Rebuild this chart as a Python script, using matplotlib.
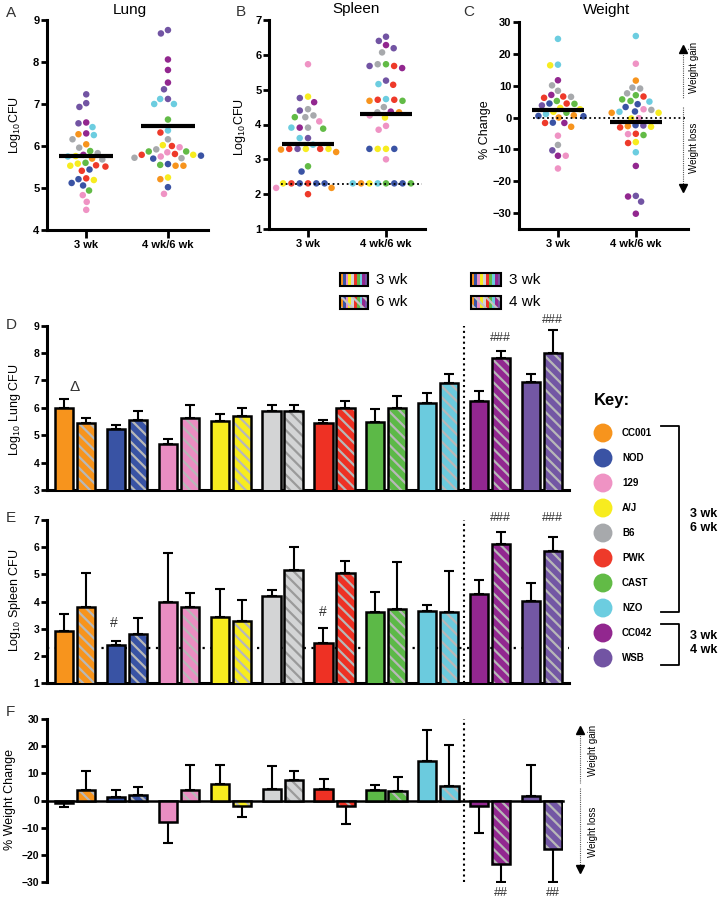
import numpy as np
import matplotlib
matplotlib.use('Agg')
import matplotlib.pyplot as plt
from matplotlib.patches import Rectangle

plt.rcParams['font.family'] = ['Liberation Sans', 'DejaVu Sans']
plt.rcParams['mathtext.fontset'] = 'custom'
plt.rcParams['mathtext.rm'] = 'Liberation Sans'
plt.rcParams['hatch.linewidth'] = 1.6

# ---------------- data ----------------
strains = ['CC001', 'NOD', '129', 'A/J', 'B6', 'PWK', 'CAST', 'NZO', 'CC042', 'WSB']
dot_colors = {'CC001': '#F7941D', 'NOD': '#3A53A4', '129': '#EF93C4', 'A/J': '#F7EC1F',
              'B6': '#A7A9AC', 'PWK': '#EE3A2A', 'CAST': '#62BB46', 'NZO': '#6CCDE0',
              'CC042': '#92278F', 'WSB': '#7254A3'}
bar_colors = ['#F7941D', '#3953A4', '#EA8DC2', '#F7EC1F', '#D3D4D5',
              '#EE3124', '#5CB947', '#6BCBDE', '#922790', '#7357A4']

# panel A - lung CFU per mouse
lung_3wk = [7.23, 7.02, 6.93, 6.56, 6.54, 6.45, 6.30, 6.26, 6.28, 6.16, 6.04, 5.96, 5.88, 5.83,
            5.79, 5.75, 5.68, 5.76, 5.70, 5.60, 5.58, 5.51, 5.53, 5.54, 5.44, 5.41, 5.21, 5.23,
            5.19, 5.12, 5.06, 4.94, 4.83, 4.67, 4.48]
lung_3wk_s = ['WSB', 'WSB', 'WSB', 'CC042', 'WSB', 'NZO', 'CC042', 'NZO', 'CC001', 'B6', 'CC001',
              'B6', 'CAST', 'B6', 'CC042', 'NZO', 'B6', 'A/J', 'CC001', 'CAST', 'A/J', 'PWK', 'A/J',
              'PWK', 'NOD', 'PWK', 'NOD', 'PWK', 'A/J', 'NOD', 'NOD', 'CAST', '129', '129', '129']
lung_late = [8.76, 8.68, 8.06, 7.81, 7.51, 7.35, 7.12, 7.00, 7.00, 7.12, 6.63, 6.37, 6.32, 6.16,
             6.00, 6.02, 5.97, 5.92, 5.87, 5.85, 5.81, 5.87, 5.75, 5.71, 5.79, 5.77, 5.79, 5.72,
             5.70, 5.55, 5.53, 5.53, 5.57, 5.25, 5.21, 5.02, 4.86]
lung_late_s = ['WSB', 'WSB', 'CC042', 'CC042', 'CC042', 'WSB', 'WSB', 'NZO', 'NZO', 'NZO', 'CAST',
               'NZO', 'PWK', 'B6', 'PWK', 'A/J', '129', 'B6', 'CAST', '129', 'PWK', 'CAST', '129',
               'B6', 'A/J', 'NOD', 'PWK', 'B6', 'NOD', 'CAST', 'CC001', 'CC001', 'NOD', 'A/J',
               'CC001', 'NOD', '129']
lung_means = [5.77, 6.47]

# panel B - spleen CFU per mouse
spleen_3wk = [5.73, 4.80, 4.76, 4.64, 4.44, 4.40, 4.26, 4.21, 4.21, 4.09, 3.88, 3.91, 3.91, 3.91,
              3.61, 3.61, 3.42, 3.30, 3.30, 3.30, 3.30, 3.21, 3.28, 3.30, 2.80, 2.65, 2.31, 2.31,
              2.31, 2.31, 2.31, 2.31, 2.18, 2.18, 2.00]
spleen_3wk_s = ['129', 'A/J', 'WSB', 'CC042', 'B6', 'WSB', 'B6', 'B6', 'CAST', '129', 'CAST', 'B6',
                'CC042', 'NZO', 'WSB', 'NZO', 'NZO', 'A/J', 'WSB', 'PWK', 'PWK', 'CC001', 'CC001',
                'A/J', 'CAST', 'NOD', 'PWK', 'NOD', 'NOD', 'PWK', 'NOD', 'A/J', 'CC001', '129', 'PWK']
spleen_late = [6.52, 6.40, 6.28, 6.19, 6.07, 5.73, 5.68, 5.62, 5.68, 5.73, 5.26, 5.14, 5.16, 4.73,
               4.71, 4.68, 4.68, 4.71, 4.37, 4.35, 4.50, 4.35, 4.20, 4.26, 3.96, 3.85, 3.30, 3.30,
               3.30, 3.30, 3.00, 2.31, 2.31, 2.31, 2.31, 2.31, 2.31, 2.31, 2.31]
spleen_late_s = ['WSB', 'WSB', 'CC042', 'WSB', 'B6', 'CAST', 'PWK', 'CC042', 'WSB', 'B6', 'WSB',
                 'PWK', 'NZO', 'NZO', 'PWK', 'CC001', 'CAST', 'PWK', 'CC042', 'B6', 'B6', 'CC001',
                 'A/J', '129', '129', '129', 'A/J', 'A/J', 'NOD', 'NOD', '129', 'CAST', 'NZO', 'NOD',
                 'A/J', 'NOD', 'CC001', 'CAST', 'NZO']
spleen_means = [3.45, 4.30]
spleen_limit = 2.3

# panel C - % weight change per mouse
weight_3wk = [24.7, 16.4, 16.6, 11.7, 10.1, 8.4, 7.1, 6.6, 6.2, 6.5, 5.2, 4.4, 4.3, 4.4, 3.8, 3.0,
              1.8, 2.6, 1.5, 1.1, 0.7, 0.4, 0.5, 0.0, -1.6, -1.7, -1.7, -2.9, -5.7, -8.6, -12.0,
              -12.0, -10.3, -16.0]
weight_3wk_s = ['NZO', 'A/J', 'NZO', 'CC042', 'B6', 'B6', 'CC042', 'PWK', 'PWK', 'B6', 'CAST', 'NOD',
                'CAST', 'PWK', 'WSB', 'A/J', 'A/J', 'A/J', 'CAST', 'NZO', 'CC001', 'NOD', 'NOD',
                'CC001', 'NOD', 'CC042', 'PWK', 'CC001', '129', 'B6', 'CC042', '129', 'WSB', '129']
weight_late = [25.6, 16.9, 11.6, 9.1, 9.4, 7.6, 7.0, 6.6, 5.2, 5.0, 5.7, 3.3, 4.2, 2.4, 1.8, 1.5,
               1.5, 1.9, 2.6, -0.3, -0.2, -2.5, -2.9, -3.1, -2.7, -2.4, -5.2, -5.5, -5.1, -7.7,
               -8.0, -10.9, -15.2, -24.8, -24.6, -26.4, -30.2]
weight_late_s = ['NZO', '129', 'CC001', 'B6', 'B6', 'B6', 'CAST', 'PWK', 'CAST', 'NZO', 'CAST', 'NOD',
                 'NOD', 'B6', 'NZO', 'A/J', 'CC001', 'NOD', '129', 'A/J', '129', 'WSB', 'A/J', 'PWK',
                 'CC001', 'NOD', '129', 'CAST', 'PWK', 'A/J', 'PWK', 'NZO', 'CC042', 'CC042', 'WSB',
                 'WSB', 'CC042']
weight_means = [2.4, -1.4]

# panels D-F - strain means and SEM (3 wk, then 6 wk / 4 wk)
lung_m3 = [6.01, 5.23, 4.69, 5.52, 5.90, 5.45, 5.49, 6.19, 6.25, 6.95]
lung_e3 = [0.30, 0.16, 0.16, 0.24, 0.21, 0.11, 0.45, 0.34, 0.36, 0.27]
lung_mL = [5.45, 5.55, 5.62, 5.70, 5.88, 6.00, 6.00, 6.89, 7.80, 7.99]
lung_eL = [0.17, 0.33, 0.49, 0.31, 0.22, 0.23, 0.44, 0.33, 0.27, 0.86]

spl_m3 = [2.91, 2.39, 4.00, 3.43, 4.20, 2.46, 3.60, 3.64, 4.27, 4.01]
spl_e3 = [0.62, 0.16, 1.78, 1.02, 0.22, 0.57, 0.75, 0.22, 0.51, 0.66]
spl_mL = [3.78, 2.81, 3.78, 3.27, 5.15, 5.04, 3.74, 3.62, 6.13, 5.87]
spl_eL = [1.26, 0.58, 0.52, 0.78, 0.87, 0.46, 1.72, 1.50, 0.43, 0.52]

wt_m3 = [-1.1, 1.3, -8.0, 6.1, 4.4, 4.2, 3.9, 14.4, -2.1, 1.7]
wt_e3 = [1.2, 2.4, 7.5, 6.9, 8.4, 3.7, 1.9, 11.7, 9.7, 11.3]
wt_mL = [4.0, 2.2, 4.0, -2.1, 7.5, -2.1, 3.4, 5.5, -23.4, -17.8]
wt_eL = [7.0, 2.7, 9.1, 4.0, 3.2, 6.4, 5.4, 15.1, 6.5, 12.1]

# ---------------- figure ----------------
W, H = 720, 901
fig = plt.figure(figsize=(7.2, 9.01), dpi=100)
ov = fig.add_axes([0, 0, 1, 1])
ov.set_xlim(0, W)
ov.set_ylim(H, 0)
ov.axis('off')
ov.set_zorder(10)


def px_axes(left, top, right, bottom):
    return fig.add_axes([left / W, 1 - bottom / H, (right - left) / W, (bottom - top) / H])


def style(ax, size):
    for s in ['top', 'right']:
        ax.spines[s].set_visible(False)
    for s in ['left', 'bottom']:
        ax.spines[s].set_linewidth(2.2)
    ax.tick_params(width=2.0, length=4, pad=1.5, labelsize=size)


def bold_ticks(ax):
    plt.setp(ax.get_xticklabels() + ax.get_yticklabels(), fontweight='bold')


def swarm(ax, xc, vals, cols, d):
    vals = np.asarray(vals, float)
    disp = ax.transData.transform(np.column_stack([np.full(len(vals), xc), vals]))
    x0 = disp[0, 0]
    placed = []
    xs = np.zeros(len(vals))
    for i in np.argsort(-vals, kind='stable'):
        y = disp[i, 1]
        cands = [x0]
        for px, py in placed:
            dy = abs(y - py)
            if dy < d:
                dx = np.sqrt(d * d - dy * dy)
                cands += [px - dx, px + dx]
        cands.sort(key=lambda c: abs(c - x0))
        for c in cands:
            if all((c - px) ** 2 + (y - py) ** 2 >= d * d - 1e-6 for px, py in placed):
                break
        placed.append((c, y))
        xs[i] = c
    xd = ax.transData.inverted().transform(np.column_stack([xs, disp[:, 1]]))[:, 0]
    ax.scatter(xd, vals, s=22, c=cols, linewidths=0, zorder=3, clip_on=False)


def dot_panel(box, xlim, ylim, yticks, groups, means, ref=None, d=7.8):
    ax = px_axes(*box)
    ax.set_xlim(xlim)
    ax.set_ylim(ylim)
    style(ax, 8)
    ax.tick_params(axis='x', length=6)
    ax.set_yticks(yticks)
    ax.set_xticks([1, 2])
    ax.set_xticklabels(['3 wk', '4 wk/6 wk'])
    bold_ticks(ax)
    if ref is not None:
        ax.axhline(ref, xmin=0.08, xmax=0.98, color='black', lw=1.3, ls=(0, (1, 1.6)), zorder=4)
    for xc, (vals, strs) in zip([1, 2], groups):
        swarm(ax, xc, vals, [dot_colors[s] for s in strs], d)
    for xc, m in zip([1, 2], means):
        ax.plot([xc - 0.33, xc + 0.33], [m, m], color='black', lw=3, solid_capstyle='butt', zorder=5)
    return ax


dot_panel((47, 20, 208, 230), (0.52, 2.49), (4, 9), range(4, 10),
          [(lung_3wk, lung_3wk_s), (lung_late, lung_late_s)], lung_means)
dot_panel((269, 20, 425, 229), (0.5, 2.5), (1, 7), range(1, 8),
          [(spleen_3wk, spleen_3wk_s), (spleen_late, spleen_late_s)], spleen_means,
          ref=spleen_limit, d=8.3)
dot_panel((519, 22, 688, 229), (0.5, 2.67), (-35, 30), range(-30, 31, 10),
          [(weight_3wk, weight_3wk_s), (weight_late, weight_late_s)], weight_means, ref=0)

off, bw = 0.212, 0.35
x = np.arange(len(strains))
hatch_cols = ['#B8B8B8'] * len(strains)
hatch_cols[4] = '#9A9A9A'


def bar_panel(box, xlim, ylim, yticks, m3, e3, mL, eL, size=7.5):
    ax = px_axes(*box)
    ax.set_xlim(xlim)
    ax.set_ylim(ylim)
    style(ax, size)
    ax.set_yticks(yticks)
    ax.set_xticks([])
    bold_ticks(ax)
    for xs, m, e in [(x - off, m3, e3), (x + off, mL, eL)]:
        m = np.asarray(m)
        e = np.asarray(e)
        lo = np.where(m < 0, e, 0)
        hi = np.where(m >= 0, e, 0)
        ax.errorbar(xs, m, yerr=[lo, hi], fmt='none', ecolor='black', elinewidth=1.5,
                    capsize=3.5, capthick=1.5, zorder=2)
    ax.bar(x - off, m3, bw, color=bar_colors, edgecolor='black', linewidth=1.8, zorder=3)
    ax.bar(x + off, mL, bw, color=bar_colors, edgecolor=hatch_cols, linewidth=0,
           hatch='\\\\\\', zorder=3)
    ax.bar(x + off, mL, bw, fill=False, edgecolor='black', linewidth=1.8, zorder=4)
    ax.axvline(7.5, color='black', lw=1.5, ls=(0, (1, 1.6)), zorder=1)
    return ax


axD = bar_panel((47, 325.6, 569, 490), (-0.54, 9.52), (3, 9), range(3, 10),
                lung_m3, lung_e3, lung_mL, lung_eL)
axD.text(0.0, 6.76, 'Δ', ha='center', va='center', fontsize=11, color='#333333')
axD.text(8.2, 8.55, '###', ha='center', va='center', fontsize=9, color='#333333')
axD.text(9.2, 9.2, '###', ha='center', va='center', fontsize=9, color='#333333')

axE = bar_panel((47, 520, 569, 683), (-0.54, 9.52), (1, 7), range(1, 8),
                spl_m3, spl_e3, spl_mL, spl_eL)
axE.axhline(spleen_limit, color='black', lw=1.6, ls=(0, (1, 2.5)), zorder=1)
axE.text(0.75, 3.21, '#', ha='center', va='center', fontsize=10, color='#333333')
axE.text(4.78, 3.62, '#', ha='center', va='center', fontsize=10, color='#333333')
axE.text(8.2, 7.07, '###', ha='center', va='center', fontsize=9, color='#333333')
axE.text(9.2, 7.07, '###', ha='center', va='center', fontsize=9, color='#333333')

axF = bar_panel((47, 719, 563, 882), (-0.54, 9.40), (-30, 30), range(-30, 31, 10),
                wt_m3, wt_e3, wt_mL, wt_eL)
axF.spines['bottom'].set_position(('data', 0))
axF.spines['bottom'].set_linewidth(1.8)
axF.text(8.2, -34.2, '##', ha='center', va='center', fontsize=9, color='#333333')
axF.text(9.2, -34.2, '##', ha='center', va='center', fontsize=9, color='#333333')

# ---------------- overlay texts ----------------
letter = dict(fontsize=11, color='#333333', va='center', ha='left')
for t, (lx, ly) in zip('ABCDEF', [(6, 13), (236, 12), (463, 12), (6, 325), (6, 518), (6, 712)]):
    ov.text(lx, ly, t, **letter)
for t, (tx, ty) in zip(['Lung', 'Spleen', 'Weight'], [(130, 10), (356, 9), (607, 10)]):
    ov.text(tx, ty, t, fontsize=11, ha='center', va='center')

ylab = dict(rotation=90, ha='center', va='center', fontsize=9)
ov.text(15, 125, r'Log$_{\mathregular{10}}$CFU', **ylab)
ov.text(240, 127, r'Log$_{\mathregular{10}}$CFU', **ylab)
ov.text(485, 130, '% Change', **ylab)
ov.text(15, 410, r'Log$_{\mathregular{10}}$ Lung CFU', **ylab)
ov.text(15, 600, r'Log$_{\mathregular{10}}$ Spleen CFU', **ylab)
ov.text(10, 800, '% Weight Change', **ylab)


def gain_loss(xa, top, mid1, mid2, bot, xt, ygain, yloss):
    ov.plot([xa, xa], [top + 5, mid1], color='#555555', lw=0.8, ls=(0, (1, 1)))
    ov.plot([xa, xa], [mid2, bot - 5], color='#555555', lw=0.8, ls=(0, (1, 1)))
    ov.plot(xa, top + 4, marker='^', ms=6, color='black', mec='black')
    ov.plot(xa, bot - 4, marker='v', ms=6, color='black', mec='black')
    ov.text(xt, ygain, 'Weight gain', rotation=90, ha='center', va='center', fontsize=7)
    ov.text(xt, yloss, 'Weight loss', rotation=90, ha='center', va='center', fontsize=7)


gain_loss(683, 45, 98, 107, 192, 694, 67, 148)
gain_loss(580, 726, 783, 788, 873, 593, 750, 832)


# legend patches above panel D
def legend_patch(x0, y0, w, h, label, hatched):
    n = len(bar_colors)
    for i, c in enumerate(bar_colors):
        ov.add_patch(Rectangle((x0 + i * w / n, y0), w / n, h, facecolor=c, edgecolor='none'))
    if hatched:
        ov.add_patch(Rectangle((x0, y0), w, h, facecolor='none', edgecolor='#C4C4C4',
                               hatch='\\\\\\', lw=0))
    ov.add_patch(Rectangle((x0, y0), w, h, facecolor='none', edgecolor='black', lw=1.5))
    ov.text(x0 + w + 8, y0 + h / 2, label, fontsize=11, ha='left', va='center')


legend_patch(340, 273, 28, 13, '3 wk', False)
legend_patch(340, 296, 28, 13, '6 wk', True)
legend_patch(471, 273, 30, 13, '3 wk', False)
legend_patch(471, 296, 30, 13, '4 wk', True)

# key
ov.text(594, 400, 'Key:', fontsize=12, fontweight='bold', ha='left', va='center')
key_y = 433 + 25 * np.arange(len(strains))
ov.scatter(np.full(len(strains), 603), key_y, s=185, c=[dot_colors[s] for s in strains],
           linewidths=0)
for s, ky in zip(strains, key_y):
    ov.text(622, ky, s, fontsize=7, fontweight='bold', ha='left', va='center')
ov.plot([661, 679, 679, 661], [426, 426, 612, 612], color='black', lw=1.3)
ov.plot([661, 679, 679, 661], [624, 624, 665, 665], color='black', lw=1.3)
ov.text(690, 521, '3 wk\n6 wk', fontsize=9, fontweight='bold', ha='left', va='center',
        linespacing=1.15)
ov.text(690, 643, '3 wk\n4 wk', fontsize=9, fontweight='bold', ha='left', va='center',
        linespacing=1.15)

fig.savefig('out.png', dpi=100, facecolor='white')
